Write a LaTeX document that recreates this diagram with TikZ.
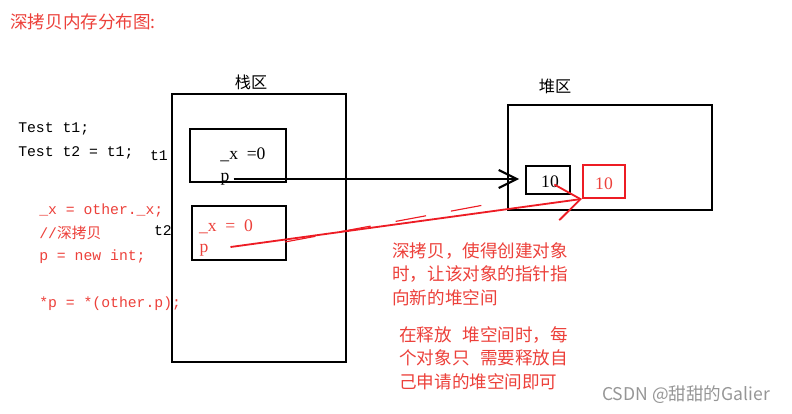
\documentclass[tikz,border=0pt]{standalone}
\usepackage{fontspec}
\setmainfont{Liberation Serif}
\newfontfamily\cjk{Noto Sans CJK SC}
\newfontfamily\codefont{Liberation Mono}
\usetikzlibrary{arrows.meta, positioning}
\definecolor{tred}{RGB}{236,64,58}
\definecolor{lred}{RGB}{237,28,36}
\definecolor{wmgray}{RGB}{150,150,150}

\begin{document}
\begin{tikzpicture}[x=0.025cm, y=-0.025cm,
  box/.style={draw, line width=1.3pt, inner sep=0pt},
  redbox/.style={draw=lred, line width=1.3pt, inner sep=0pt},
  code/.style={anchor=west, inner sep=0pt, font=\codefont\fontsize{10.5}{12}\selectfont},
  boxtext/.style={inner sep=0pt, font=\fontsize{12.5}{15}\selectfont},
  area/.style={inner sep=0pt, font=\cjk\fontsize{11.5}{14}\selectfont},
  note/.style={anchor=north west, inner sep=0pt, align=left, text=tred,
    font=\cjk\fontsize{12.5}{16.7}\selectfont}]

\useasboundingbox (0,0) rectangle (792,414);

% title
\node[anchor=west, inner sep=0pt, text=tred, font=\cjk\fontsize{12.5}{15}\selectfont]
  (title) at (10,22) {深拷贝内存分布图:};

% code on the left
\node[code] (c1) at (18,129) {Test t1;};
\node[code] (c2) at (18,153) {Test t2 = t1;};
\node[code, text=tred] (c3) at (39,210) {\_x = other.\_x;};
\node[code, text=tred] (c4) at (39,233) {//{\cjk 深拷贝}};
\node[code, text=tred] (c5) at (39,257) {p = new int;};
\node[code, text=tred] (c6) at (39,304) {*p = *(other.p);};

% stack area
\node[box, minimum width=4.35cm, minimum height=6.7cm] (stack) at (259,228) {};
\node[area] (stacklbl) at (251,82) {栈区};

\node[box, minimum width=2.4cm, minimum height=1.325cm] (t1box) at (238,155.5) {};
\node[box, minimum width=2.35cm, minimum height=1.35cm] (t2box) at (239,233) {};
\node[code, anchor=center] (t1) at (159,156) {t1};
\node[code, anchor=center] (t2) at (163,231) {t2};

\node[boxtext] (x1) at (243,155) {\_x~ =0};
\node[boxtext] (p1) at (225,179) {p};
\node[boxtext, text=tred] (x2) at (226,227) {\_x ~=~ 0};
\node[boxtext, text=tred] (p2) at (204,250) {p};

% heap area
\node[box, minimum width=5.1cm, minimum height=2.625cm] (heap) at (610,157.5) {};
\node[area] (heaplbl) at (555,86) {堆区};
\node[box, minimum width=1.1cm, minimum height=0.7cm] (h1) at (548,180) {};
\node[boxtext] (v1) at (550,182) {10};
\node[redbox, minimum width=1.05cm, minimum height=0.825cm] (h2) at (604,181.5) {};
\node[boxtext, text=tred] (v2) at (604,184) {10};

% pointers
\draw[line width=1.3pt, -{Straight Barb[length=4.5mm, width=4.5mm, line width=1.5pt]},
  shorten <=1mm, shorten >=1.5mm]
  (p1.east) -- (p1.east -| h1.west);
\draw[lred, line width=1.3pt, -{Straight Barb[length=6mm, width=9mm]}, shorten <=5.5mm]
  (p2.east) -- (h2.south west);
\coordinate (d1) at (285,242);
\coordinate (d2) at (500,202);
\draw[lred, line width=0.8pt, dash pattern=on 22pt off 18pt] (d1) -- (d2);

% notes
\node[note] (n1) at (392,242) {深拷贝，使得创建对象\\时，让该对象的指针指\\向新的堆空间};
\node[note] (n2) at (399,326) {在释放\hspace{0.6em}堆空间时，每\\个对象只\hspace{0.6em}需要释放自\\己申请的堆空间即可};

% watermark
\node[inner sep=0pt, text=wmgray, font=\cjk\fontsize{12.5}{15}\selectfont]
  (wm) at (686,395) {CSDN @甜甜的Galier};

\end{tikzpicture}
\end{document}
